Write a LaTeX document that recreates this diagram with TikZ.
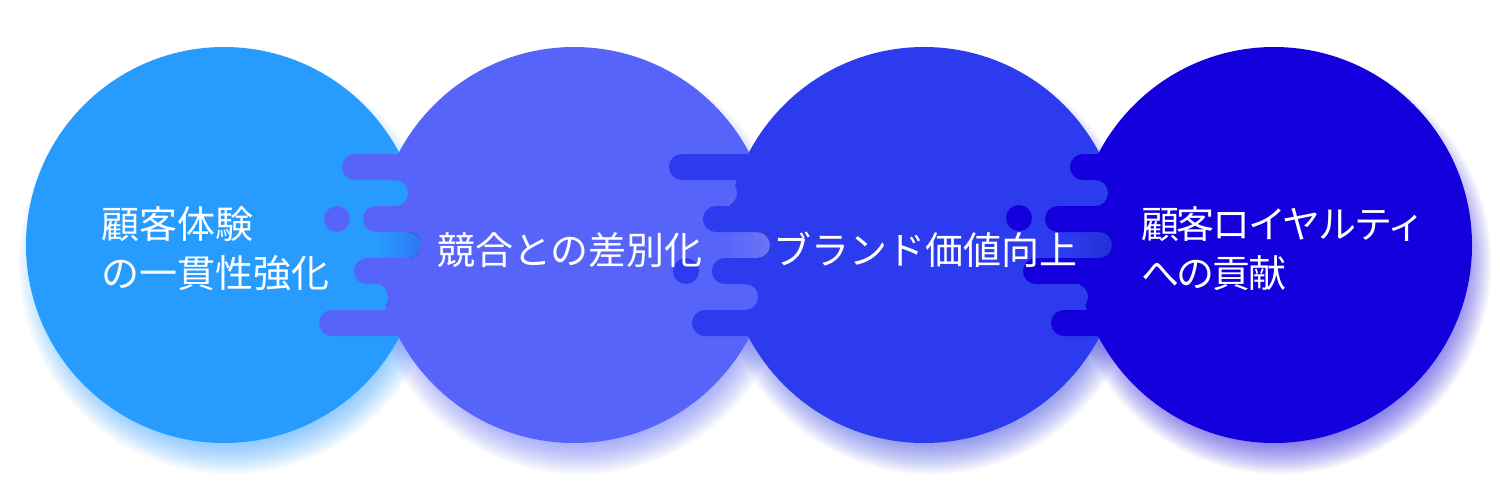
\documentclass[tikz,border=0pt]{standalone}
\usepackage{fontspec}
\newfontfamily\jp{Noto Sans CJK JP}
\newfontfamily\jpn[LetterSpace=-6]{Noto Sans CJK JP}
\definecolor{cA}{HTML}{279CFE}
\definecolor{cB}{HTML}{5664FA}
\definecolor{cC}{HTML}{2C3BEE}
\definecolor{cD}{HTML}{1400DD}
\definecolor{tipA}{HTML}{2E78F3}
\definecolor{tipB}{HTML}{6C75F7}
\definecolor{tipC}{HTML}{2530D2}
\begin{document}
\begin{tikzpicture}[x=1pt,y=-1pt,
  disc/.style={circle, minimum size=396pt, inner sep=0pt, draw=none},
  bar/.style={rounded corners=12.9pt},
  lbl/.style={text=white, inner sep=0pt, anchor=west, align=left,
              font=\jp\fontsize{38}{49}\selectfont},
  lbln/.style={lbl, font=\jpn\fontsize{38}{49}\selectfont}]
\useasboundingbox (0,0) rectangle (1500,490);
\fill[white] (0,0) rectangle (1500,490);
% soft glows
\foreach \cx/\col in {224/cA,574/cB,924/cC,1274/cD}{
  \foreach \k in {0,...,19}{
    \fill[\col, opacity=0.03] (\cx+6,263) circle ({180+1.65*\k});
  }
}
% circles
\node[disc, fill=cA] (c1) at (224,245) {};
\node[disc, fill=cB] (c2) at (574,245) {};
\node[disc, fill=cC] (c3) at (924,245) {};
\node[disc, fill=cD] (c4) at (1274,245) {};
% junction 1 (cA -> cB)
\fill[cA, bar] (350,180) rectangle (408,206);
\begin{scope}
  \clip[bar] (350,232) rectangle (421,258);
  \fill[cA] (350,232) rectangle (421,258);
  \fill[left color=cA, right color=tipA] (376,232) rectangle (421,258);
\end{scope}
\fill[cA, bar] (350,284) rectangle (388,310);
\fill[cB, bar] (342,154) rectangle (470,180);
\fill[cB, bar] (363,206) rectangle (470,232);
\fill[cB, bar] (354,258) rectangle (470,284);
\fill[cB, bar] (319,310) rectangle (470,336);
\fill[cB] (337,219) circle (13);
% junction 2 (cB -> cC)
\fill[cB, bar] (690,180) rectangle (737,206);
\begin{scope}
  \clip[bar] (690,232) rectangle (770,258);
  \fill[cB] (690,232) rectangle (770,258);
  \fill[left color=cB, right color=tipB] (722,232) rectangle (770,258);
\end{scope}
\fill[cB, bar] (690,284) rectangle (758,310);
\fill[cC, bar] (669,154) rectangle (820,180);
\fill[cC, bar] (703,206) rectangle (820,232);
\fill[cC, bar] (712,258) rectangle (820,284);
\fill[cC, bar] (692,310) rectangle (820,336);
\fill[cC] (686,271) circle (13);
% junction 3 (cC -> cD)
\fill[cC, bar] (1030,180) rectangle (1108,206);
\begin{scope}
  \clip[bar] (1030,232) rectangle (1112,258);
  \fill[cC] (1030,232) rectangle (1112,258);
  \fill[left color=cC, right color=tipC] (1070,232) rectangle (1112,258);
\end{scope}
\fill[cC, bar] (1030,284) rectangle (1088,310);
\fill[cD, bar] (1070,154) rectangle (1170,180);
\fill[cD, bar] (1045,206) rectangle (1170,232);
\fill[cD, bar] (1023,258) rectangle (1170,284);
\fill[cD, bar] (1051,310) rectangle (1170,336);
\fill[cD] (1019,218) circle (13);
% labels
\node[lbl] (t1) at (101,249) {顧客体験\\の一貫性強化};
\node[lbl] (t2) at (437,250) {競合との差別化};
\node[lbl] (t3) at (773,250) {ブランド価値向上};
\node[lbln] (t4) at (1141,249) {顧客ロイヤルティ\\への貢献};
\end{tikzpicture}
\end{document}
